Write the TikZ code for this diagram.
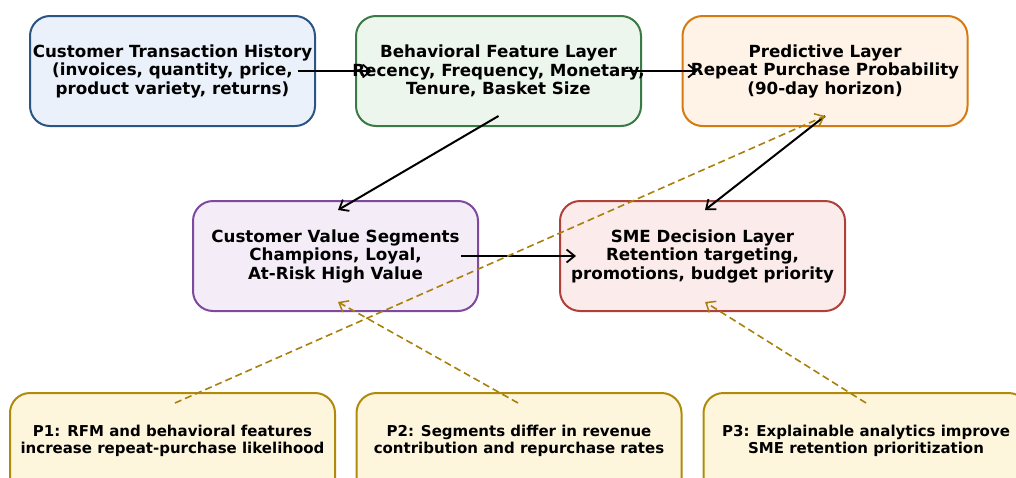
\documentclass[tikz,border=0pt]{standalone}
\usepackage{fontspec}
\setmainfont{DejaVu Sans}
\usetikzlibrary{arrows.meta}

\definecolor{blueE}{HTML}{2B5582}
\definecolor{blueF}{HTML}{EAF1FB}
\definecolor{greenE}{HTML}{3A7A45}
\definecolor{greenF}{HTML}{EDF6EC}
\definecolor{orangeE}{HTML}{D57A12}
\definecolor{orangeF}{HTML}{FEF3E6}
\definecolor{purpleE}{HTML}{7E4A9E}
\definecolor{purpleF}{HTML}{F4ECF7}
\definecolor{redE}{HTML}{B0413A}
\definecolor{redF}{HTML}{FBEBEA}
\definecolor{goldE}{HTML}{B08A0B}
\definecolor{goldF}{HTML}{FEF6DC}
\definecolor{goldL}{HTML}{A8800C}

\tikzset{
  layer/.style={draw, line width=2pt, rounded corners=20pt, minimum width=285pt,
    minimum height=110pt, align=center, inner xsep=-10pt, inner ysep=0pt,
    font=\fontsize{16.7}{18.5}\selectfont\bfseries},
  prop/.style={draw=goldE, fill=goldF, line width=2pt, rounded corners=20pt,
    minimum width=325pt, minimum height=110pt, align=center, inner xsep=-10pt,
    inner ysep=0pt, anchor=north, font=\fontsize{15}{17}\selectfont\bfseries},
  flow/.style={draw=black, line width=2pt, -{Straight Barb[length=8pt,width=13pt,line width=1.8pt]}},
  link/.style={draw=goldL, line width=1.6pt, dash pattern=on 7pt off 4pt,
    -{Straight Barb[length=8pt,width=13pt,line width=1.5pt]}}
}

\begin{document}
\begin{tikzpicture}[x=1pt,y=-1pt]
\useasboundingbox (0,0) rectangle (1016,477);
\clip (0,0) rectangle (1016,477);

% framework layers
\node[layer, draw=blueE, fill=blueF] (hist) at (172.5,71)
  {Customer Transaction History\\(invoices, quantity, price,\\product variety, returns)};
\node[layer, draw=greenE, fill=greenF] (feat) at (498.5,71)
  {Behavioral Feature Layer\\Recency, Frequency, Monetary,\\Tenure, Basket Size};
\node[layer, draw=orangeE, fill=orangeF] (pred) at (825,71)
  {Predictive Layer\\Repeat Purchase Probability\\(90-day horizon)};
\node[layer, draw=purpleE, fill=purpleF] (seg) at (335.5,256)
  {Customer Value Segments\\Champions, Loyal,\\At-Risk High Value};
\node[layer, draw=redE, fill=redF] (dec) at (702.5,256)
  {SME Decision Layer\\Retention targeting,\\promotions, budget priority};

% propositions (a blank third line lifts the text inside the taller boxes)
\node[prop] (p1) at (172.5,392)
  {P1: RFM and behavioral features\\increase repeat-purchase likelihood\\[-4pt]\strut};
\node[prop] (p2) at (519,392)
  {P2: Segments differ in revenue\\contribution and repurchase rates\\[-4pt]\strut};
\node[prop] (p3) at (866,392)
  {P3: Explainable analytics improve\\SME retention prioritization\\[-4pt]\strut};

% main flow
\draw[flow] ([xshift=-18pt]hist.east) -- ([xshift=17pt]feat.west);
\draw[flow] ([xshift=-18pt]feat.east) -- ([xshift=16pt]pred.west);
\draw[flow] ([yshift=11pt]feat.south) -- ([xshift=2.5pt,yshift=-10pt]seg.north);
\draw[flow] ([yshift=11pt]pred.south) -- ([xshift=2.5pt,yshift=-10pt]dec.north);
\draw[flow] ([xshift=-18pt]seg.east) -- ([xshift=17pt]dec.west);

% propositions linked to the layers they support
\draw[link] ([xshift=2.5pt,yshift=-11pt]p1.north) -- ([yshift=11pt]pred.south);
\draw[link] ([xshift=-1pt,yshift=-11pt]p2.north) -- ([xshift=2.5pt,yshift=10pt]seg.south);
\draw[link] ([yshift=-11pt]p3.north) -- ([xshift=2.5pt,yshift=10pt]dec.south);
\end{tikzpicture}
\end{document}
